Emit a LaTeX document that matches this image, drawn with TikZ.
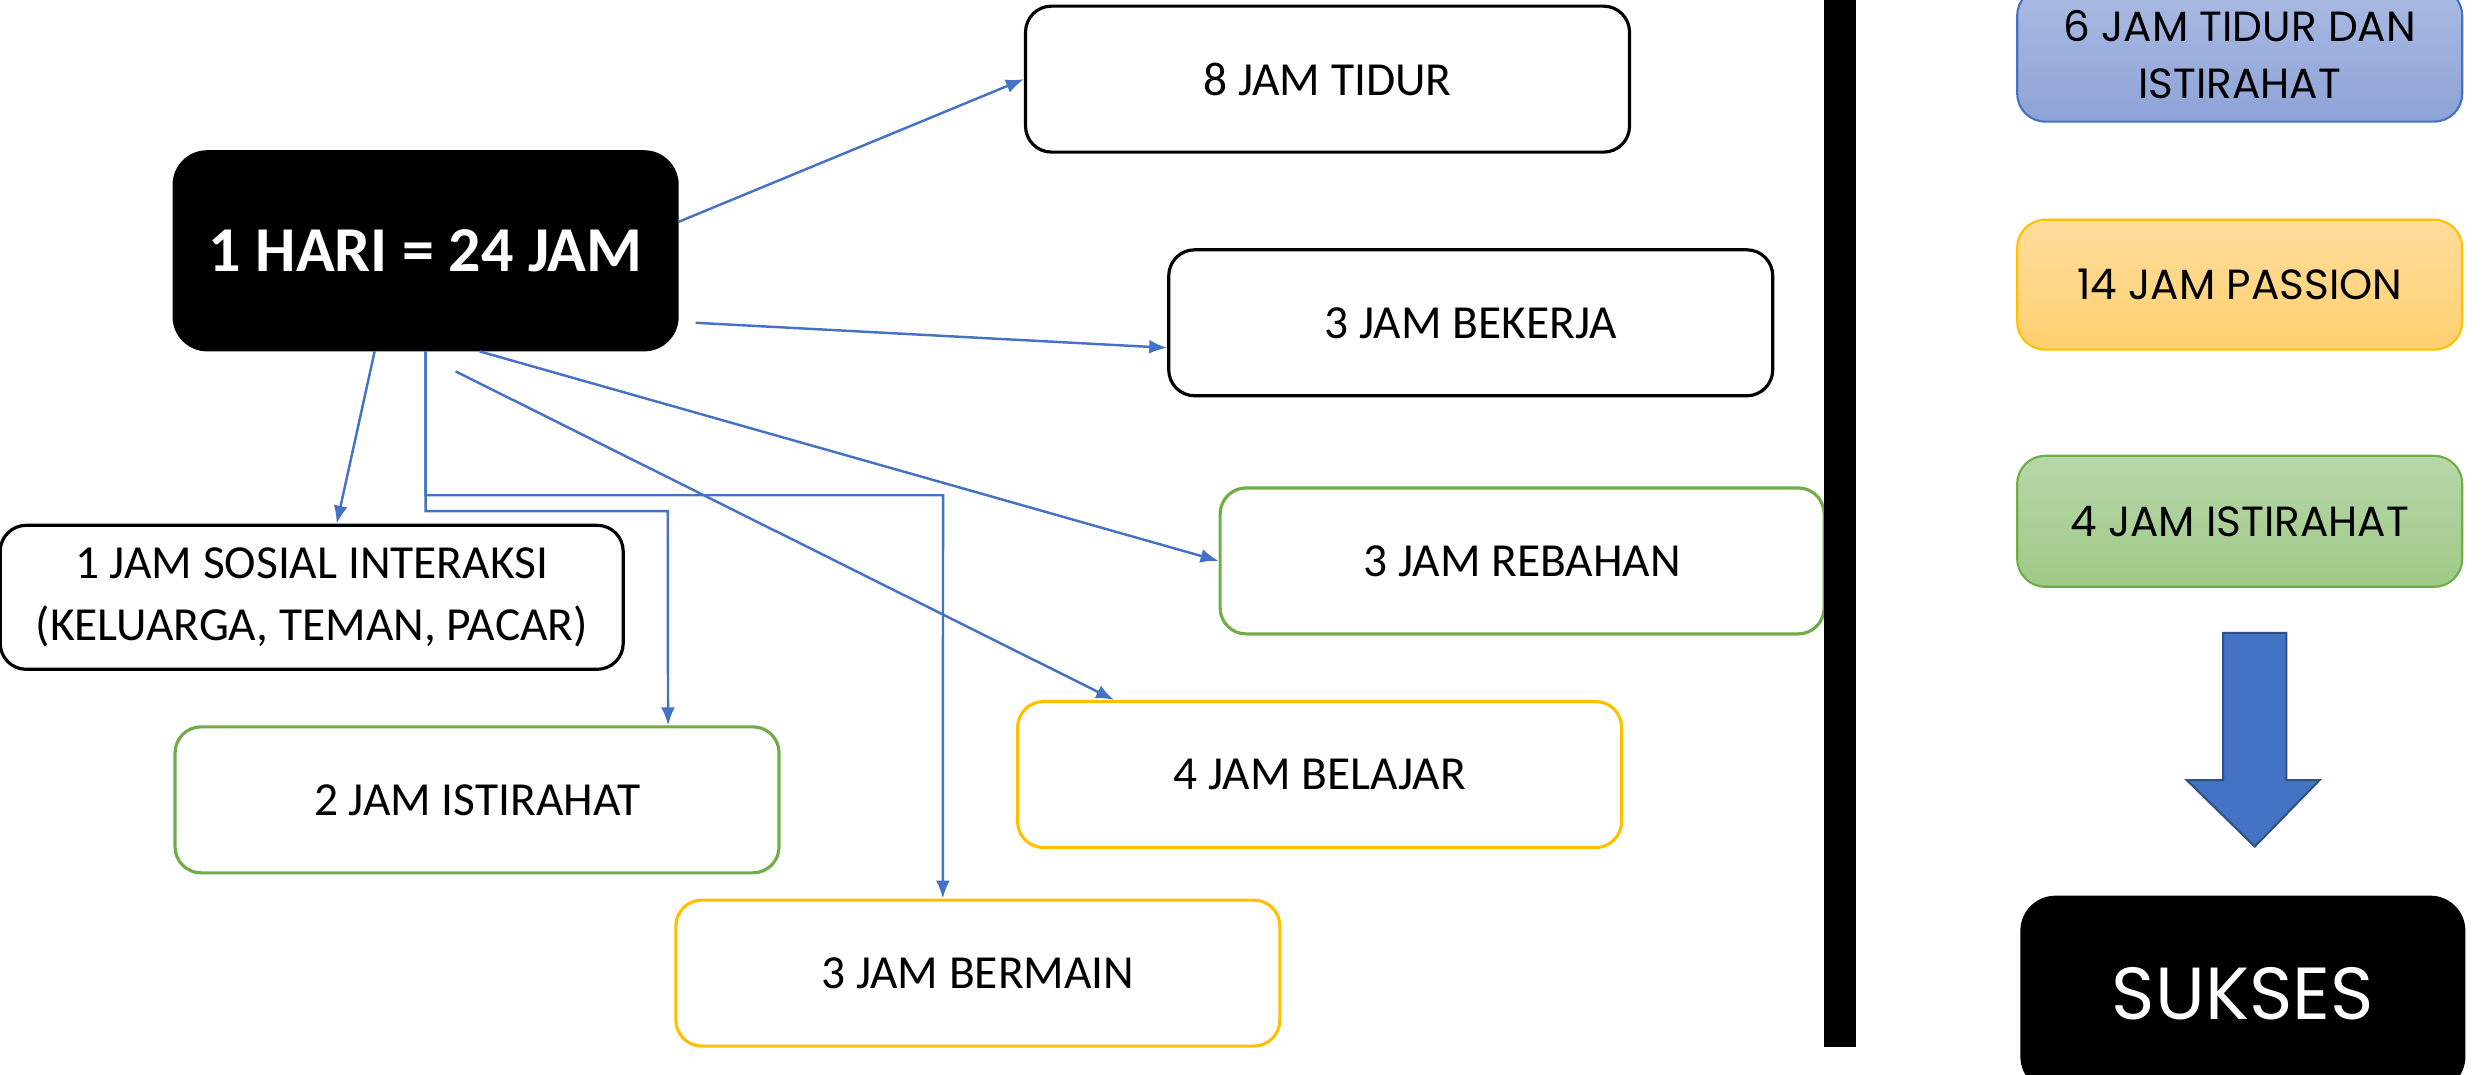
\documentclass[tikz,border=0pt]{standalone}
\usepackage{fontspec}
\setmainfont{Carlito}
\newfontfamily\geofont{Poppins}
\usepackage{tikz}
\usetikzlibrary{positioning,arrows.meta}
\usepackage{xcolor}
\definecolor{linkblue}{HTML}{4472C4}
\definecolor{restgreen}{HTML}{70AD47}
\definecolor{playgold}{HTML}{FFC000}
\definecolor{sleeptop}{HTML}{AABAE2}
\definecolor{sleepbot}{HTML}{8EA3D7}
\definecolor{passiontop}{HTML}{FFDC9C}
\definecolor{passionbot}{HTML}{FFD06F}
\definecolor{resttop}{HTML}{B7D7A9}
\definecolor{restbot}{HTML}{9FC987}

\begin{document}
\begin{tikzpicture}[x=1.5823mm,y=-1.5823mm]
    \tikzstyle{box} = [draw,rectangle,rounded corners=2.6mm,line width=0.9pt,fill=white,minimum width=60.4mm,minimum height=14.6mm,align=center,font=\fontsize{13.5}{17.5}\selectfont]
    \tikzstyle{plan} = [rectangle,rounded corners=2.8mm,line width=0.6pt,minimum width=44.5mm,minimum height=13mm,align=center,font=\geofont\fontsize{12}{16}\selectfont]
    \tikzstyle{link} = [draw=linkblue,line width=0.7pt,-{Latex[length=1.8mm,width=1.4mm]}]
    \useasboundingbox (0,0) rectangle (156.8,67.9);
    % left part
    \node[box,fill=black,text=white,rounded corners=3.3mm,minimum width=50.3mm,minimum height=19.8mm,font=\bfseries\fontsize{18.2}{21}\selectfont] (hari) at (26.9,15.85) {1 HARI = 24 JAM};
    \node[box] (tidur) at (83.9,5.0) {8 JAM TIDUR};
    \node[box] (bekerja) at (92.95,20.4) {3 JAM BEKERJA};
    \node[box,draw=restgreen] (rebahan) at (96.2,35.45) {3 JAM REBAHAN};
    \node[box,minimum width=62.3mm,minimum height=14.4mm] (sosial) at (19.7,37.75) {1 JAM SOSIAL INTERAKSI\\(KELUARGA, TEMAN, PACAR)};
    \node[box,draw=restgreen] (istirahat) at (30.15,50.55) {2 JAM ISTIRAHAT};
    \node[box,draw=playgold] (belajar) at (83.4,48.95) {4 JAM BELAJAR};
    \node[box,draw=playgold] (bermain) at (61.8,61.5) {3 JAM BERMAIN};
    \draw[link] ([yshift=2.9mm]hari.east) -- (tidur.west);
    \draw[link] ([xshift=1.7mm,yshift=-7.2mm]hari.east) -- ([yshift=-2.5mm]bekerja.west);
    \draw[link] ([xshift=5.4mm]hari.south) -- (rebahan.west);
    \draw[link] ([xshift=3mm,yshift=-2mm]hari.south) -- ([xshift=9.8mm]belajar.north west);
    \draw[link] ([xshift=-5.1mm]hari.south) -- ([xshift=2.5mm]sosial.north);
    \draw[link] (hari.south) -- (26.9,32.3) -- (42.2,32.3) -- ([xshift=19.1mm]istirahat.north);
    \draw[link] (hari.south) -- (26.9,31.3) -- (59.6,31.3) -- ([xshift=-3.5mm]bermain.north);
    % divider
    \fill (115.3,0) rectangle (117.3,66.2);
    % right part
    \node[plan,draw=linkblue,top color=sleeptop,bottom color=sleepbot,minimum height=13.4mm] (tidurdan) at (141.55,3.45) {6 JAM TIDUR DAN\\ISTIRAHAT};
    \node[plan,draw=playgold,top color=passiontop,bottom color=passionbot] (passion) [below = 9.6mm of tidurdan] {14 JAM PASSION};
    \node[plan,draw=restgreen,top color=resttop,bottom color=restbot,minimum height=13.1mm] (istirahatempat) [below = 10.4mm of passion] {4 JAM ISTIRAHAT};
    \node[plan,fill=black,text=white,rounded corners=3.5mm,minimum height=19.6mm,font=\geofont\fontsize{21}{25}\selectfont] (sukses) at (141.75,62.8) {SUKSES};
    \filldraw[fill=linkblue,draw=linkblue!70!black,line width=0.6pt] (140.5,40.0) -- (144.5,40.0) -- (144.5,49.3) -- (146.6,49.3) -- (142.5,53.5) -- (138.2,49.3) -- (140.5,49.3) -- cycle;
\end{tikzpicture}
\end{document}
